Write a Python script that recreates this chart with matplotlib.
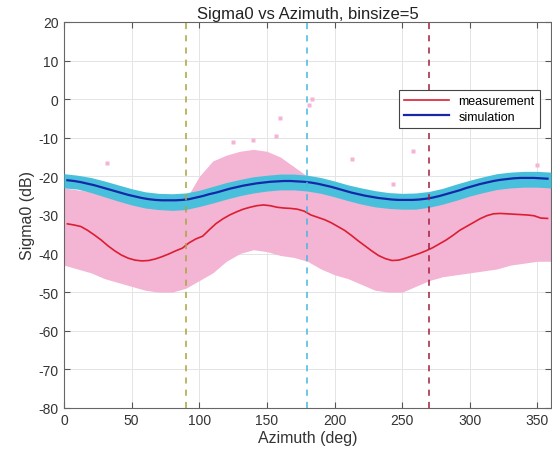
import numpy as np
import matplotlib
matplotlib.use("Agg")
import matplotlib.pyplot as plt

plt.rcParams['font.family'] = ['Liberation Sans', 'DejaVu Sans']
plt.rcParams['axes.unicode_minus'] = False

# DATA
# bin centres (binsize=5) for the mean curves
bin_deg = np.arange(2.5, 360, 5)
meas_mean = [-32.3, -32.6, -33.0, -34.0, -35.2, -36.5, -38.0, -39.3, -40.4, -41.2,
             -41.7, -41.9, -41.8, -41.4, -40.8, -40.1, -39.3, -38.6, -37.2, -36.2,
             -35.5, -33.8, -32.2, -31.0, -30.0, -29.2, -28.5, -28.0, -27.6, -27.4,
             -27.6, -28.0, -28.2, -28.3, -28.5, -29.0, -30.0, -30.6, -31.2, -32.0,
             -33.0, -34.0, -35.3, -36.7, -38.0, -39.3, -40.5, -41.3, -41.8, -41.7,
             -41.2, -40.6, -40.0, -39.3, -38.5, -37.5, -36.5, -35.3, -34.0, -33.0,
             -32.0, -31.0, -30.2, -29.7, -29.6, -29.7, -29.8, -29.9, -30.0, -30.2,
             -30.8, -30.9]
sim_mean = [-21.0, -21.2, -21.5, -21.9, -22.3, -22.8, -23.3, -23.8, -24.3, -24.8,
            -25.2, -25.6, -25.9, -26.1, -26.2, -26.2, -26.2, -26.1, -25.9, -25.5,
            -25.1, -24.6, -24.2, -23.7, -23.2, -22.8, -22.4, -22.1, -21.8, -21.6,
            -21.4, -21.3, -21.2, -21.2, -21.3, -21.4, -21.6, -21.9, -22.3, -22.7,
            -23.2, -23.7, -24.2, -24.6, -25.0, -25.3, -25.6, -25.8, -26.0, -26.1,
            -26.1, -26.1, -26.0, -25.8, -25.5, -25.1, -24.6, -24.1, -23.6, -23.0,
            -22.5, -22.0, -21.6, -21.2, -20.9, -20.7, -20.5, -20.4, -20.4, -20.4,
            -20.5, -20.6]

# envelopes of the raw point clouds, read every 10 deg
env_deg = np.arange(0, 361, 10)
meas_hi = [-23, -23.5, -24, -24.5, -25, -25.5, -26, -26.5, -27, -26,
           -20, -16, -14.5, -13.5, -13, -13.5, -15, -17.5, -20, -22,
           -22.5, -23, -23.5, -24, -24.5, -25, -25.5, -25, -24.5, -24,
           -23, -22.5, -22, -22, -22, -22, -22]
meas_lo = [-43, -44, -45, -46.5, -47.5, -48.5, -49.5, -50, -50, -49,
           -47, -45, -42, -40, -39, -39.5, -40.5, -41, -42, -44,
           -45.5, -46.5, -48, -49.5, -50, -50, -48.5, -47, -46, -45.5,
           -45, -44.5, -44, -43, -42.5, -42, -42]
sim_hi = [-19.3, -19.7, -20.3, -21.2, -22.2, -23.2, -24.0, -24.4, -24.5, -24.3,
          -23.6, -22.6, -21.6, -20.8, -20.1, -19.7, -19.4, -19.4, -19.7, -20.3,
          -21.2, -22.2, -23.0, -23.7, -24.2, -24.4, -24.3, -23.9, -23.1, -22.0,
          -21.0, -20.1, -19.3, -18.9, -18.7, -18.7, -18.9]
sim_lo = [-23.0, -23.3, -24.2, -25.3, -26.4, -27.4, -28.2, -28.6, -28.8, -28.6,
          -27.8, -26.9, -25.9, -25.0, -24.3, -23.8, -23.5, -23.5, -23.8, -24.4,
          -25.3, -26.3, -27.2, -27.9, -28.3, -28.5, -28.5, -28.0, -27.2, -26.2,
          -25.1, -24.2, -23.4, -23.0, -22.8, -22.8, -23.0]

# stray measurement points away from the cloud
stray_deg = [183, 181, 160, 157, 213, 258, 350, 32, 243, 125, 140]
stray_val = [0, -1.5, -5, -9.6, -15.6, -13.5, -17, -16.6, -22, -11, -10.5]

# reference azimuths
ref_deg = [90, 180, 270]

# PLOT
fig = plt.figure(figsize=(5.52, 4.6), dpi=100)
ax = fig.add_axes([0.116, 0.111, 0.882, 0.839])

pink = '#f4b4d4'
cyan = '#48c0dc'
ax.fill_between(env_deg, meas_lo, meas_hi, color=pink, lw=0, zorder=2)
ax.plot(stray_deg, stray_val, 's', color=pink, ms=3, mec='none', zorder=2)
ax.fill_between(env_deg, sim_lo, sim_hi, color=cyan, lw=0, zorder=3)

ax.plot(bin_deg, meas_mean, color='#dc1e32', lw=1.2, label='measurement', zorder=4)
ax.plot(bin_deg, sim_mean, color='#1428a8', lw=1.6, label='simulation', zorder=4)

for d, c in zip(ref_deg, ['#a8a63c', '#45b8e0', '#a01e3c']):
    ax.axvline(d, color=c, ls=(0, (4, 4)), lw=1.1, zorder=5)

ax.set_xlim(0, 360)
ax.set_ylim(-80, 20)
ax.set_xticks(np.arange(0, 351, 50))
ax.set_yticks(np.arange(-80, 21, 10))
ax.grid(True, color='#e4e4e4', lw=0.7, zorder=0)
ax.set_axisbelow(True)
ax.tick_params(direction='in', length=4, top=True, right=True,
               labelsize=10, colors='#555555', labelcolor='#333333', pad=4)
for s in ax.spines.values():
    s.set_color('#666666')
    s.set_linewidth(0.8)

ax.set_title('Sigma0 vs Azimuth, binsize=5', fontsize=12, pad=3, color='#222222')
ax.set_xlabel('Azimuth (deg)', fontsize=11.5, color='#333333', labelpad=2)
ax.set_ylabel('Sigma0 (dB)', fontsize=11.5, color='#333333', labelpad=2)

leg = ax.legend(loc='upper right', bbox_to_anchor=(0.99, 0.84), fontsize=9,
                fancybox=False, framealpha=1, edgecolor='#444444',
                handlelength=3.6, borderpad=0.4, labelspacing=0.3)
leg.get_frame().set_linewidth(0.8)
leg.set_zorder(10)

plt.savefig('out.png', dpi=100)
